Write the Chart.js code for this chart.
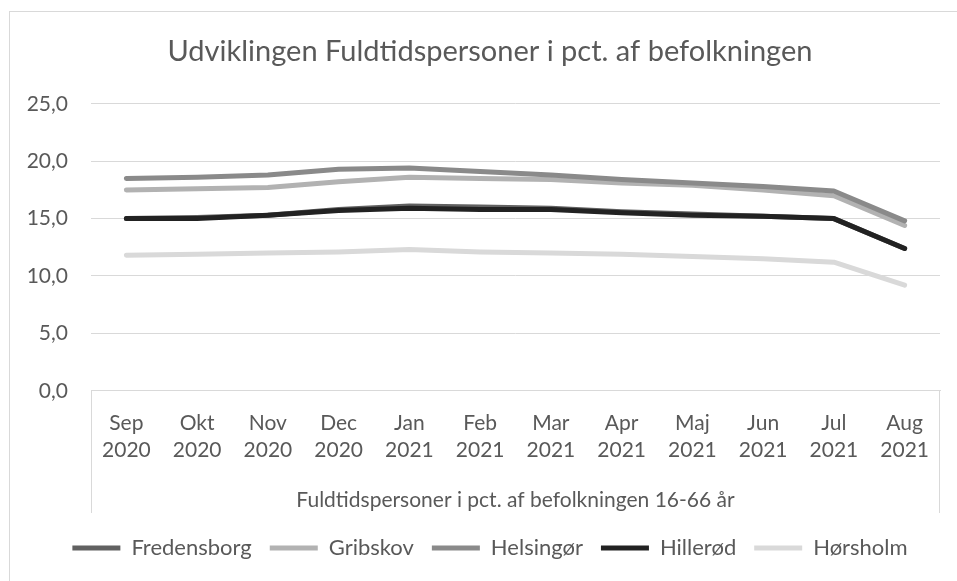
<!DOCTYPE html>
<html lang="da">
<head>
<meta charset="utf-8">
<title>Fuldtidspersoner</title>
<script src="https://cdn.jsdelivr.net/npm/chart.js@4"></script>
<style>
  html, body { margin: 0; padding: 0; background: #fff; }
  #wrap { width: 957px; height: 581px; position: relative; }
</style>
</head>
<body>
<div id="wrap"><canvas id="fuldtidChart"></canvas></div>
<script>
const months = [
    ['Sep', '2020'], ['Okt', '2020'], ['Nov', '2020'], ['Dec', '2020'],
    ['Jan', '2021'], ['Feb', '2021'], ['Mar', '2021'], ['Apr', '2021'],
    ['Maj', '2021'], ['Jun', '2021'], ['Jul', '2021'], ['Aug', '2021']
];
const yTicks = [0, 5, 10, 15, 20, 25];

const fredensborg = [15.0, 15.1, 15.3, 15.8, 16.1, 16.0, 15.9, 15.6, 15.4, 15.2, 15.0, 12.4];
const gribskov    = [17.5, 17.6, 17.7, 18.2, 18.6, 18.5, 18.4, 18.1, 17.9, 17.5, 17.0, 14.4];
const helsingor   = [18.5, 18.6, 18.8, 19.3, 19.4, 19.1, 18.8, 18.4, 18.1, 17.8, 17.4, 14.8];
const hillerod    = [15.0, 15.0, 15.3, 15.7, 15.9, 15.8, 15.8, 15.5, 15.3, 15.2, 15.0, 12.4];
const horsholm    = [11.8, 11.9, 12.0, 12.1, 12.3, 12.1, 12.0, 11.9, 11.7, 11.5, 11.2, 9.2];

const seriesNames = ['Fredensborg', 'Gribskov', 'Helsingør', 'Hillerød', 'Hørsholm'];
const seriesData = [fredensborg, gribskov, helsingor, hillerod, horsholm];
const seriesColors = ['#616161', '#b2b2b2', '#8a8a8a', '#222222', '#d9d9d9'];

const textColor = '#595959';
const gridColor = '#d9d9d9';
const fontFamily = 'Lato, "Open Sans", sans-serif';
const boxGap = 6;   // space left under the axis title, outside the box

// outer frame and the box around the category axis
const framePlugin = {
    id: 'frame',
    beforeDraw(chart) {
        const ctx = chart.ctx;
        ctx.save();
        ctx.fillStyle = '#fff';
        ctx.fillRect(0, 0, chart.width, chart.height);
        ctx.strokeStyle = gridColor;
        ctx.lineWidth = 1;
        ctx.strokeRect(9.5, 11.5, chart.width + 20, chart.height + 20);
        ctx.restore();
    },
    afterDraw(chart) {
        const ctx = chart.ctx;
        const x = chart.scales.x;
        const top = chart.chartArea.bottom;
        const bottom = x.bottom - boxGap;
        ctx.save();
        ctx.strokeStyle = gridColor;
        ctx.lineWidth = 1;
        ctx.beginPath();
        ctx.moveTo(Math.round(x.left) + 0.5, top);
        ctx.lineTo(Math.round(x.left) + 0.5, bottom);
        ctx.moveTo(Math.round(x.right) - 0.5, top);
        ctx.lineTo(Math.round(x.right) - 0.5, bottom);
        ctx.stroke();
        ctx.restore();
    }
};

const datasets = seriesNames.map((name, i) => ({
    label: name,
    data: seriesData[i],
    borderColor: seriesColors[i],
    backgroundColor: seriesColors[i],
    borderWidth: 5,
    borderCapStyle: 'round',
    borderJoinStyle: 'round',
    pointRadius: 0,
    pointHoverRadius: 0,
    tension: 0,
    fill: false,
    order: seriesNames.length - i   // later series drawn on top
}));

new Chart(document.getElementById('fuldtidChart'), {
    type: 'line',
    data: { labels: months, datasets: datasets },
    plugins: [framePlugin],
    options: {
        responsive: true,
        maintainAspectRatio: false,
        animation: false,
        events: [],
        // the chart runs a little past the right edge, so title and legend sit right of centre
        layout: { padding: { left: 10, right: -13, top: 0, bottom: 12 } },
        plugins: {
            title: {
                display: true,
                text: 'Udviklingen Fuldtidspersoner i pct. af befolkningen',
                color: textColor,
                font: { family: fontFamily, size: 29, weight: 'normal' },
                padding: { top: 34, bottom: 35 }
            },
            legend: {
                position: 'bottom',
                labels: {
                    usePointStyle: true,
                    pointStyle: 'line',
                    pointStyleWidth: 48,
                    color: textColor,
                    font: { family: fontFamily, size: 22 },
                    padding: 18,
                    sort: (a, b) => a.datasetIndex - b.datasetIndex
                }
            },
            tooltip: { enabled: false }
        },
        scales: {
            x: {
                offset: true,
                grid: { display: false, drawTicks: false },
                border: { display: true, color: gridColor },
                ticks: {
                    color: textColor,
                    font: { family: fontFamily, size: 21, lineHeight: 1.286 },
                    padding: 19,
                    maxRotation: 0,
                    autoSkip: false
                },
                title: {
                    display: true,
                    text: 'Fuldtidspersoner i pct. af befolkningen 16-66 år',
                    color: textColor,
                    font: { family: fontFamily, size: 21 },
                    padding: { top: 5, bottom: boxGap }
                }
            },
            y: {
                min: 0,
                max: 25,
                afterBuildTicks: scale => {
                    scale.ticks = yTicks.map(v => ({ value: v }));
                },
                afterFit: scale => { scale.width = 81; },
                grid: { color: gridColor, drawTicks: false },
                border: { display: false },
                ticks: {
                    color: textColor,
                    font: { family: fontFamily, size: 21 },
                    padding: 23,
                    callback: value => value.toFixed(1).replace('.', ',')
                }
            },
            // empty strip on the right that keeps the plot clear of the edge
            yRight: {
                position: 'right',
                afterFit: scale => { scale.width = 30; },
                grid: { display: false, drawTicks: false },
                border: { display: false },
                ticks: { display: false }
            }
        }
    }
});
</script>
</body>
</html>
